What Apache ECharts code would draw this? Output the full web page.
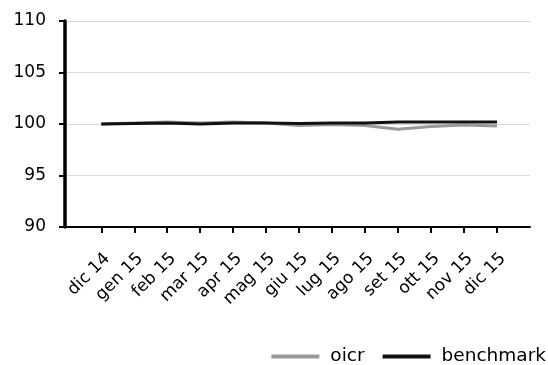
<!DOCTYPE html>
<html>
<head>
<meta charset="utf-8">
<script src="https://cdn.jsdelivr.net/npm/echarts@6/dist/echarts.min.js"></script>
<style>html,body{margin:0;padding:0;background:#fff}#c{width:548px;height:365px}</style>
</head>
<body>
<div id="c"></div>
<script>
var categories = ['dic 14','gen 15','feb 15','mar 15','apr 15','mag 15','giu 15','lug 15','ago 15','set 15','ott 15','nov 15','dic 15'];
var oicr = [100, 100.1, 100.2, 100.1, 100.2, 100.1, 99.85, 99.95, 99.85, 99.5, 99.75, 99.9, 99.8];
var benchmark = [100, 100.05, 100.1, 100.0, 100.1, 100.1, 100.05, 100.1, 100.1, 100.2, 100.2, 100.2, 100.2];
var yTicks = [90, 95, 100, 105, 110];

var idx = categories.map(function(_, i){ return i; });
function pairs(arr){ return arr.map(function(v, i){ return [i, v]; }); }
var font = 'DejaVu Sans';
var chart = echarts.init(document.getElementById('c'), null, {renderer: 'canvas'});
chart.setOption({
  animation: false,
  textStyle: {fontFamily: font},
  grid: {left: 65, right: 18, top: 21, bottom: 138},
  legend: {
    right: 2, bottom: -1, padding: 0, itemWidth: 48, itemHeight: 4, itemGap: 18,
    icon: 'rect',
    textStyle: {fontFamily: font, fontSize: 18.5, color: '#000', padding: [0, 0, 0, 6]},
    data: [{name: 'oicr'}, {name: 'benchmark'}]
  },
  xAxis: {
    type: 'value', min: -1.1, max: 13,
    axisLine: {show: true, onZero: false, lineStyle: {color: '#000', width: 2}},
    axisTick: {show: true, customValues: idx, length: 6, lineStyle: {color: '#000', width: 2}},
    axisLabel: {customValues: idx, rotate: 45, fontSize: 17, color: '#000', margin: 23, fontFamily: font,
      verticalAlign: 'top',
      formatter: function(v){ return categories[Math.round(v)] || ''; }},
    splitLine: {show: false}
  },
  yAxis: {
    type: 'value', min: yTicks[0], max: yTicks[yTicks.length-1], interval: 5,
    axisLine: {show: true, onZero: false, lineStyle: {color: '#000', width: 3.5}},
    axisTick: {show: true, length: 6, lineStyle: {color: '#000', width: 2}},
    axisLabel: {fontSize: 17, color: '#000', margin: 19, fontFamily: font},
    splitLine: {show: true, lineStyle: {color: '#d9d9d9', width: 1}}
  },
  series: [
    {name: 'oicr', type: 'line', data: pairs(oicr), showSymbol: false, symbol: 'none',
      lineStyle: {color: '#999999', width: 3}, itemStyle: {color: '#999999'}},
    {name: 'benchmark', type: 'line', data: pairs(benchmark), showSymbol: false, symbol: 'none',
      lineStyle: {color: '#111111', width: 3}, itemStyle: {color: '#111111'}}
  ]
});
</script>
</body>
</html>
